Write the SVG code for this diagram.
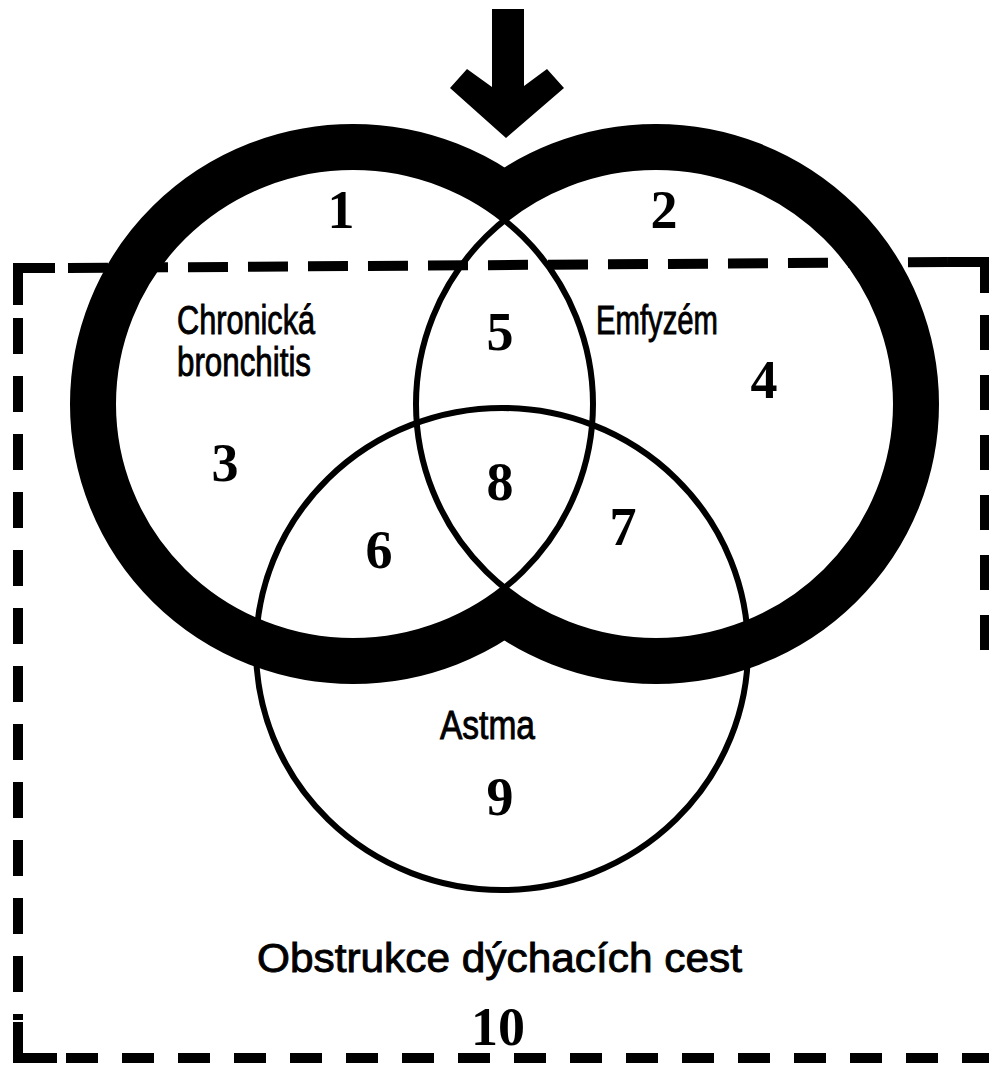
<svg xmlns="http://www.w3.org/2000/svg" width="989" height="1084" viewBox="0 0 989 1084">
<style>
.band{fill:none;stroke:#000;stroke-width:86}
.fillw{fill:#fff;stroke:none}
.thin{fill:none;stroke:#000;stroke-width:6}
.dash{fill:none;stroke:#000;stroke-width:10}
.lbl{font-family:"Liberation Sans",Arial,sans-serif;font-size:40px;fill:#000;stroke:#000;stroke-width:0.9}
.num{font-family:"Liberation Serif","Times New Roman",serif;font-weight:bold;font-size:54px;fill:#000;text-anchor:middle}
</style>
<rect width="989" height="1084" fill="#fff"/>
<g id="bands">
<ellipse class="band" cx="353" cy="404" rx="240" ry="237"/>
<ellipse class="band" cx="656" cy="404" rx="240" ry="237"/>
<ellipse class="fillw" cx="353" cy="404" rx="240" ry="237"/>
<ellipse class="fillw" cx="656" cy="404" rx="240" ry="237"/>
</g>
<g id="obstruction-box">
<path class="dash" d="M18 305 L18 268 L55 268"/>
<path class="dash" d="M68 268 L948 262" stroke-dasharray="40 20"/>
<path class="dash" d="M948 262 L985 262 L985 293"/>
<path class="dash" d="M985 315 L985 655" stroke-dasharray="35 25"/>
<path class="dash" d="M18 318 L18 1020" stroke-dasharray="36 22"/>
<path class="dash" d="M18 1022 L18 1058 L57 1058"/>
<path class="dash" d="M66 1058 L989 1058" stroke-dasharray="32 24"/>
</g>
<g id="chronic-bronchitis">
<ellipse class="thin" cx="353" cy="404" rx="240" ry="237"/>
<text class="lbl" x="177" y="334" textLength="138" lengthAdjust="spacingAndGlyphs">Chronická</text>
<text class="lbl" x="177" y="376" textLength="134" lengthAdjust="spacingAndGlyphs">bronchitis</text>
</g>
<g id="emphysema">
<ellipse class="thin" cx="656" cy="404" rx="240" ry="237"/>
<text class="lbl" x="596" y="334" textLength="122" lengthAdjust="spacingAndGlyphs">Emfyzém</text>
</g>
<g id="asthma">
<ellipse class="thin" cx="502" cy="649" rx="246" ry="241"/>
<text class="lbl" x="440" y="739" textLength="95" lengthAdjust="spacingAndGlyphs">Astma</text>
</g>
<g id="numbers">
<text class="num" x="341" y="228">1</text>
<text class="num" x="664" y="228">2</text>
<text class="num" x="225" y="481">3</text>
<text class="num" x="764" y="398">4</text>
<text class="num" x="500" y="350">5</text>
<text class="num" x="379" y="568">6</text>
<text class="num" x="623" y="545">7</text>
<text class="num" x="500" y="500">8</text>
<text class="num" x="500" y="815">9</text>
<text class="num" x="498" y="1045">10</text>
</g>
<text class="lbl" x="257" y="972" textLength="485" lengthAdjust="spacingAndGlyphs">Obstrukce dýchacích cest</text>
<g id="arrow">
<polygon points="492,9 524,9 524,86 547,69 564,88 506,138 450,88 467,69 492,87" fill="#000"/>
</g>
</svg>
